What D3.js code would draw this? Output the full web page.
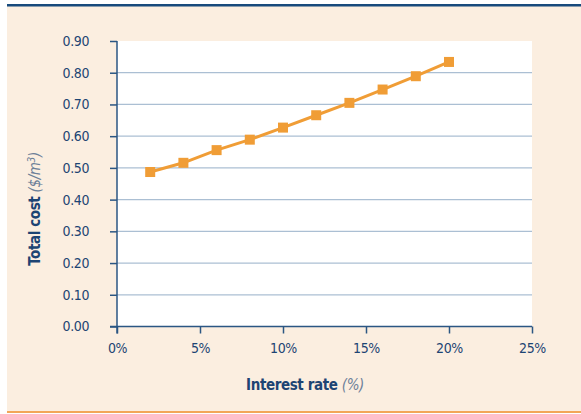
<!DOCTYPE html>
<html lang="en">
<head>
<meta charset="utf-8">
<title>Total cost vs interest rate</title>
<script src="https://d3js.org/d3.v7.min.js"></script>
<style type="text/css">
  body { margin: 0; background: #fff; }
  text { font-family: "Liberation Sans Narrow", "DejaVu Sans Condensed", "Open Sans", sans-serif; }
</style>
</head>
<body>
<script type="text/javascript">

  // data
  var rates = [2, 4, 6, 8, 10, 12, 14, 16, 18, 20];
  var costs = [0.487, 0.516, 0.556, 0.589, 0.627, 0.666, 0.705, 0.747, 0.789, 0.834];
  var xTicks = [0, 5, 10, 15, 20, 25];
  var yTicks = [0, 0.1, 0.2, 0.3, 0.4, 0.5, 0.6, 0.7, 0.8, 0.9];

  var width = 581, height = 414;
  var textColor = "#1d4473";

  var svg = d3.select("body").append("svg")
    .attr("width", width)
    .attr("height", height);

  // panel background and rules
  svg.append("rect").attr("x", 7).attr("y", 6).attr("width", width - 7).attr("height", 405)
    .attr("fill", "#fbeee0");
  svg.append("rect").attr("x", 7).attr("y", 4).attr("width", width - 7).attr("height", 2.5)
    .attr("fill", "#174a7c");
  svg.append("rect").attr("x", 7).attr("y", 411).attr("width", width - 7).attr("height", 2)
    .attr("fill", "#f2a657");

  var xScale = d3.scaleLinear().domain([0, 25]).range([117, 532]);
  var yScale = d3.scaleLinear().domain([0, 0.9]).range([326.5, 41]);

  // plot area
  svg.append("rect")
    .attr("x", xScale(0)).attr("y", yScale(0.9))
    .attr("width", xScale(25) - xScale(0))
    .attr("height", yScale(0) - yScale(0.9))
    .attr("fill", "#ffffff");

  // gridlines
  svg.selectAll("line.grid")
    .data(yTicks.filter(function(d) { return d > 0 && d < 0.9; }))
    .enter().append("line")
    .attr("class", "grid")
    .attr("x1", xScale(0)).attr("x2", xScale(25))
    .attr("y1", function(d) { return yScale(d); })
    .attr("y2", function(d) { return yScale(d); })
    .attr("stroke", "#abbfd3")
    .attr("stroke-width", 1.2);

  // axes
  var yAxis = d3.axisLeft(yScale)
    .tickValues(yTicks)
    .tickSize(7)
    .tickPadding(21)
    .tickFormat(d3.format(".2f"));
  var xAxis = d3.axisBottom(xScale)
    .tickValues(xTicks)
    .tickSize(7)
    .tickPadding(10)
    .tickFormat(function(d) { return d + "%"; });

  var gy = svg.append("g").attr("transform", "translate(" + xScale(0) + ",0)").call(yAxis);
  var gx = svg.append("g").attr("transform", "translate(0," + yScale(0) + ")").call(xAxis);

  [gx, gy].forEach(function(g) {
    g.select(".domain").remove();
    g.selectAll(".tick line").attr("stroke", "#2b5683").attr("stroke-width", 1.5);
    g.selectAll(".tick text").attr("fill", textColor)
      .style("font-size", "14px").style("letter-spacing", "-0.4px");
  });

  // axis lines (y extends down past x axis, x extends left past y axis)
  svg.append("line")
    .attr("x1", xScale(0)).attr("x2", xScale(0))
    .attr("y1", yScale(0.9)).attr("y2", yScale(0) + 7)
    .attr("stroke", "#2b5683").attr("stroke-width", 1.5);
  svg.append("line")
    .attr("x1", xScale(0) - 7).attr("x2", xScale(25))
    .attr("y1", yScale(0)).attr("y2", yScale(0))
    .attr("stroke", "#2b5683").attr("stroke-width", 1.5);

  // series
  var line = d3.line()
    .x(function(d, i) { return xScale(rates[i]); })
    .y(function(d) { return yScale(d); });

  svg.append("path")
    .datum(costs)
    .attr("d", line)
    .attr("fill", "none")
    .attr("stroke", "#f09d36")
    .attr("stroke-width", 3);

  svg.selectAll("rect.marker")
    .data(costs)
    .enter().append("rect")
    .attr("class", "marker")
    .attr("x", function(d, i) { return xScale(rates[i]) - 5; })
    .attr("y", function(d) { return yScale(d) - 5; })
    .attr("width", 10).attr("height", 10)
    .attr("fill", "#f09d36");

  // axis titles
  var xt = svg.append("text")
    .attr("x", 305).attr("y", 390)
    .attr("text-anchor", "middle")
    .style("font-size", "15px")
    .style("letter-spacing", "-0.4px");
  xt.append("tspan").attr("fill", textColor).attr("font-weight", "bold").text("Interest rate ");
  xt.append("tspan").attr("fill", "#6d8099").attr("font-style", "italic").text("(%)");

  var yt = svg.append("text")
    .attr("transform", "translate(40,209) rotate(-90)")
    .attr("text-anchor", "middle")
    .style("font-size", "15px")
    .style("letter-spacing", "-0.4px");
  yt.append("tspan").attr("fill", textColor).attr("font-weight", "bold").text("Total cost ");
  yt.append("tspan").attr("fill", "#6d8099").attr("font-style", "italic").text("($/m");
  yt.append("tspan").attr("fill", "#6d8099").attr("font-style", "italic")
    .attr("dy", -5).style("font-size", "10px").text("3");
  yt.append("tspan").attr("fill", "#6d8099").attr("font-style", "italic")
    .attr("dy", 5).text(")");

</script>
</body>
</html>
